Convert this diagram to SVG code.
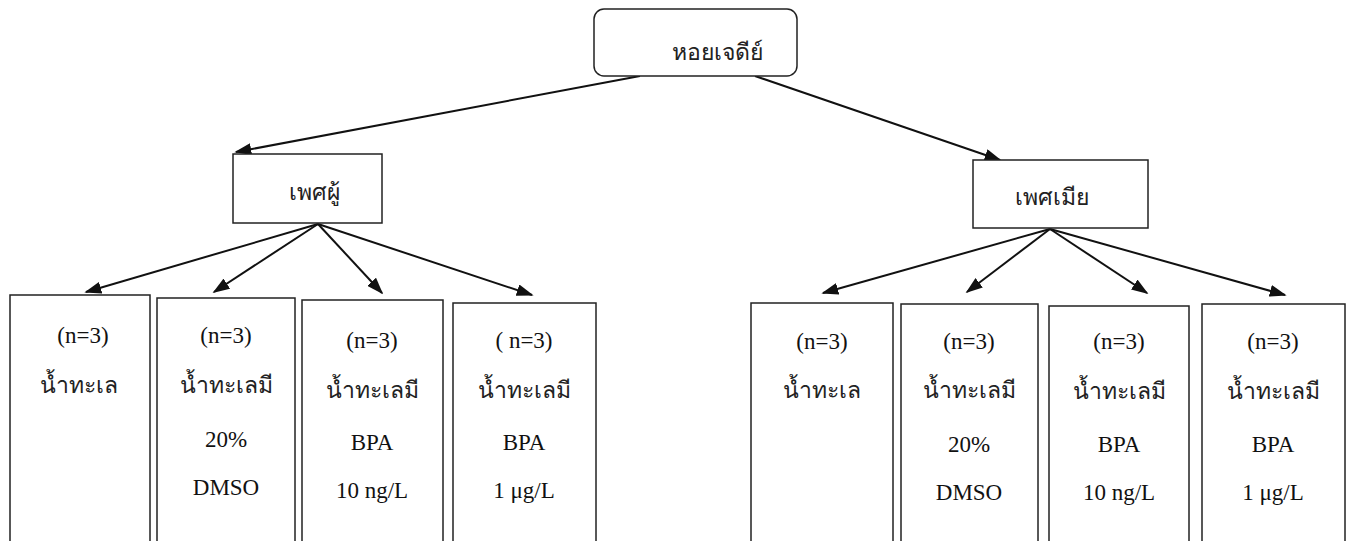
<svg xmlns="http://www.w3.org/2000/svg" width="1351" height="541" viewBox="0 0 1351 541">
<style>
.box{fill:#fff;stroke:#222;stroke-width:1.5}
.t{font-family:"Liberation Serif","Noto Sans",serif;font-size:23px;fill:#111;text-anchor:middle}
.th{font-family:"Noto Sans","DejaVu Sans",sans-serif;font-size:23px;font-weight:normal;fill:#222;text-anchor:middle}
.c{stroke:#111;stroke-width:2;fill:none;marker-end:url(#ah)}
</style>
<defs>
<marker id="ah" viewBox="0 0 10 10" refX="9" refY="5" markerWidth="17" markerHeight="12" markerUnits="userSpaceOnUse" orient="auto" preserveAspectRatio="none">
<path d="M0,0 L10,5 L0,10 z" fill="#111"/>
</marker>
</defs>
<rect width="1351" height="541" fill="#fff"/>
<g id="connectors">
<line class="c" x1="640" y1="76" x2="236" y2="152"/>
<line class="c" x1="755" y1="76" x2="1000" y2="160"/>
<line class="c" x1="318" y1="224" x2="86" y2="292"/>
<line class="c" x1="318" y1="224" x2="214" y2="292"/>
<line class="c" x1="318" y1="224" x2="382" y2="293"/>
<line class="c" x1="318" y1="224" x2="532" y2="295"/>
<line class="c" x1="1050" y1="229" x2="823" y2="293"/>
<line class="c" x1="1050" y1="229" x2="967" y2="292"/>
<line class="c" x1="1050" y1="229" x2="1147" y2="293"/>
<line class="c" x1="1050" y1="229" x2="1285" y2="295"/>
</g>
<g id="root">
<rect class="box" x="594" y="9" width="203" height="67" rx="10"/>
<text class="th" x="717" y="60">หอยเจดีย์</text>
</g>
<g id="male">
<rect class="box" x="233" y="154" width="149" height="69"/>
<text class="th" x="314" y="200">เพศผู้</text>
</g>
<g id="female">
<rect class="box" x="973" y="160" width="175" height="68"/>
<text class="th" x="1052" y="205">เพศเมีย</text>
</g>
<g id="m1">
<rect class="box" x="10" y="295" width="140" height="260"/>
<text class="t" x="83" y="343">(n=3)</text>
<text class="th" x="79" y="393">น้ำทะเล</text>
</g>
<g id="m2">
<rect class="box" x="157" y="298" width="138" height="260"/>
<text class="t" x="226" y="343">(n=3)</text>
<text class="th" x="226" y="393">น้ำทะเลมี</text>
<text class="t" x="226" y="447">20%</text>
<text class="t" x="226" y="495">DMSO</text>
</g>
<g id="m3">
<rect class="box" x="302" y="300" width="141" height="260"/>
<text class="t" x="372" y="348">(n=3)</text>
<text class="th" x="372" y="398">น้ำทะเลมี</text>
<text class="t" x="372" y="450">BPA</text>
<text class="t" x="372" y="498">10 ng/L</text>
</g>
<g id="m4">
<rect class="box" x="453" y="303" width="143" height="260"/>
<text class="t" x="524" y="348">( n=3)</text>
<text class="th" x="524" y="398">น้ำทะเลมี</text>
<text class="t" x="524" y="450">BPA</text>
<text class="t" x="524" y="498">1 μg/L</text>
</g>
<g id="f1">
<rect class="box" x="751" y="303" width="142" height="260"/>
<text class="t" x="822" y="349">(n=3)</text>
<text class="th" x="822" y="398">น้ำทะเล</text>
</g>
<g id="f2">
<rect class="box" x="901" y="304" width="137" height="260"/>
<text class="t" x="969" y="349">(n=3)</text>
<text class="th" x="969" y="398">น้ำทะเลมี</text>
<text class="t" x="969" y="452">20%</text>
<text class="t" x="969" y="500">DMSO</text>
</g>
<g id="f3">
<rect class="box" x="1049" y="306" width="140" height="260"/>
<text class="t" x="1119" y="349">(n=3)</text>
<text class="th" x="1119" y="399">น้ำทะเลมี</text>
<text class="t" x="1119" y="452">BPA</text>
<text class="t" x="1119" y="500">10 ng/L</text>
</g>
<g id="f4">
<rect class="box" x="1202" y="304" width="143" height="260"/>
<text class="t" x="1273" y="349">(n=3)</text>
<text class="th" x="1273" y="399">น้ำทะเลมี</text>
<text class="t" x="1273" y="452">BPA</text>
<text class="t" x="1273" y="500">1 μg/L</text>
</g>
</svg>
